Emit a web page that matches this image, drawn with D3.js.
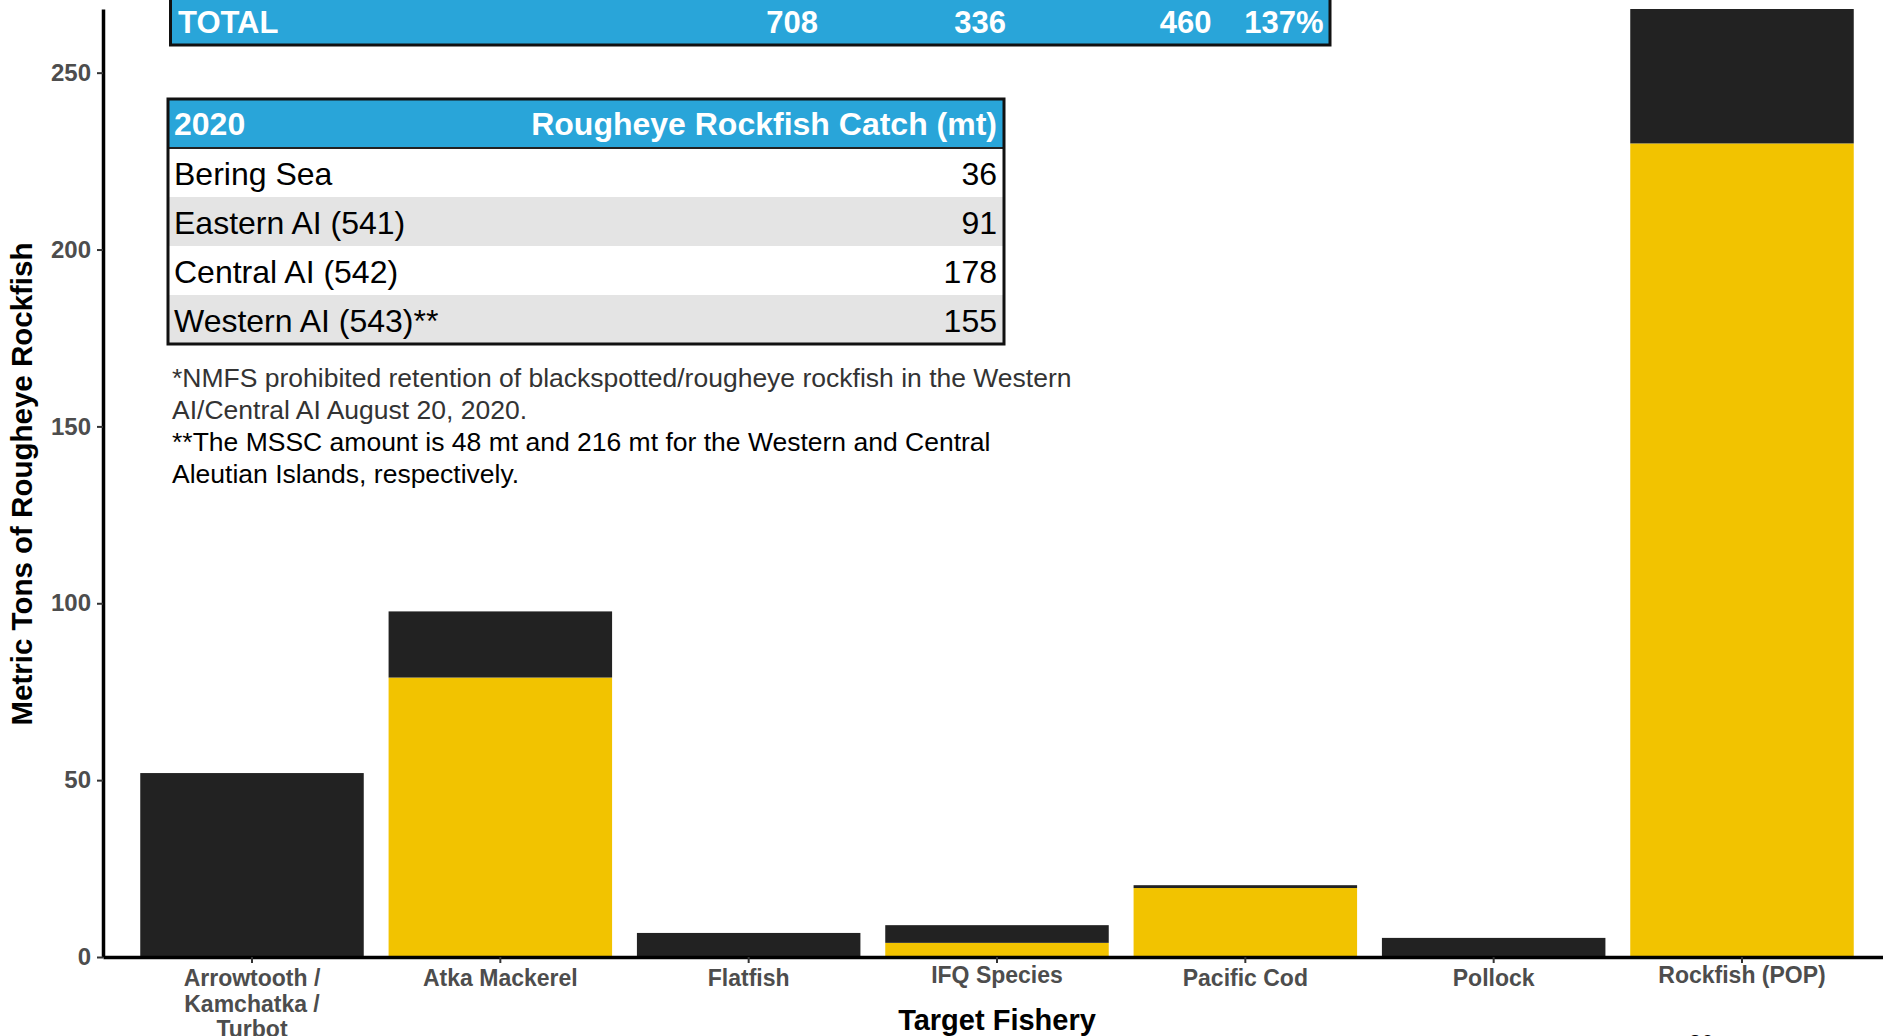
<!DOCTYPE html>
<html>
<head>
<meta charset="utf-8">
<script src="https://cdn.jsdelivr.net/npm/d3@7"></script>
<style>
body { margin: 0; background: #fff; }
svg { display: block; font-family: "Liberation Sans", Arial, sans-serif; }
</style>
</head>
<body>
<script>
// values
var categories = ["Arrowtooth /\nKamchatka /\nTurbot", "Atka Mackerel", "Flatfish", "IFQ Species", "Pacific Cod", "Pollock", "Rockfish (POP)"];
var lowerPart = [0, 79, 0, 4, 19.5, 0, 230];       // yellow segment
var upperPart = [52, 18.7, 6.8, 5, 0.8, 5.4, 38];  // dark segment
var yTicks = [0, 50, 100, 150, 200, 250];
var yMax = 268;

var totalRow = ["TOTAL", "708", "336", "460", "137%"];
var catchHeader = ["2020", "Rougheye Rockfish Catch (mt)"];
var areas = ["Bering Sea", "Eastern AI (541)", "Central AI (542)", "Western AI (543)**"];
var areaCatch = [36, 91, 178, 155];
var notes = [
    ["*NMFS prohibited retention of blackspotted/rougheye rockfish in the Western", "AI/Central AI August 20, 2020."],
    ["**The MSSC amount is 48 mt and 216 mt for the Western and Central", "Aleutian Islands, respectively."]
];

var width = 1883,
    height = 1036;

var panel = {left: 103, right: 1891, top: 9, bottom: 957};
var blue = "#29a5d9",
    yellow = "#f2c300",
    dark = "#222222";

var svg = d3.select("body")
    .append("svg")
    .attr("width", width)
    .attr("height", height);

var x = d3.scaleBand()
    .domain(categories)
    .range([panel.left, panel.right])
    .paddingInner(0.1)
    .paddingOuter(0.15);

var y = d3.scaleLinear()
    .domain([0, yMax])
    .range([panel.bottom, panel.top]);

var rows = categories.map(function(c, i) {
    return {cat: c, lower: lowerPart[i], upper: upperPart[i]};
});
var layers = d3.stack().keys(["lower", "upper"])(rows);
var fills = {lower: yellow, upper: dark};

svg.append("g").selectAll("g")
    .data(layers)
    .enter().append("g")
    .attr("fill", function(d) { return fills[d.key]; })
    .selectAll("rect")
    .data(function(d) { return d; })
    .enter().append("rect")
    .attr("x", function(d) { return x(d.data.cat); })
    .attr("width", x.bandwidth())
    .attr("y", function(d) { return y(d[1]); })
    .attr("height", function(d) { return y(d[0]) - y(d[1]); });

// y axis
var yAxis = svg.append("g")
    .attr("transform", "translate(" + panel.left + ",0)")
    .call(d3.axisLeft(y).tickValues(yTicks).tickSize(6).tickSizeOuter(0).tickPadding(6));
yAxis.attr("font-family", null).attr("font-size", null);
yAxis.select(".domain").attr("stroke", "#000").attr("stroke-width", 3.5);
yAxis.selectAll(".tick line").attr("stroke", "#333").attr("stroke-width", 2);
yAxis.selectAll(".tick text")
    .attr("fill", "#4d4d4d")
    .style("font-size", "24px")
    .style("font-weight", "bold");

// x axis
var xAxis = svg.append("g")
    .attr("transform", "translate(0," + panel.bottom + ")")
    .call(d3.axisBottom(x).tickSize(6).tickSizeOuter(0).tickPadding(7));
xAxis.attr("font-family", null).attr("font-size", null);
xAxis.select(".domain").attr("stroke", "#000").attr("stroke-width", 3.5);
xAxis.selectAll(".tick line").attr("stroke", "#333").attr("stroke-width", 2);
xAxis.selectAll(".tick text")
    .attr("fill", "#4d4d4d")
    .attr("dy", null)
    .style("font-size", "23px")
    .style("font-weight", "bold")
    .each(function(d) {
        var t = d3.select(this);
        var lines = d.split("\n");
        t.text(null);
        lines.forEach(function(l, i) {
            t.append("tspan").attr("x", 0).attr("dy", i ? "1.1em" : "0.71em").text(l);
        });
        // single line labels with descenders sit a little higher
        if (lines.length == 1 && /[gjpqy()]/.test(d)) t.attr("transform", "translate(0,-3)");
    });

// axis titles
svg.append("text")
    .attr("x", (panel.left + panel.right) / 2)
    .attr("y", 1030)
    .attr("text-anchor", "middle")
    .style("font-size", "29px")
    .style("font-weight", "bold")
    .text("Target Fishery");

svg.append("text")
    .attr("transform", "translate(32," + ((panel.top + panel.bottom) / 2 + 1) + ") rotate(-90)")
    .attr("text-anchor", "middle")
    .style("font-size", "29.5px")
    .style("font-weight", "bold")
    .text("Metric Tons of Rougheye Rockfish");

// TOTAL row (top of the slide table, cut off)
var totalG = svg.append("g");
totalG.append("rect")
    .attr("x", 170.5).attr("y", -4)
    .attr("width", 1159.5).attr("height", 49)
    .attr("fill", blue).attr("stroke", "#111").attr("stroke-width", 3);
var totalX = [178, 818, 1006, 1211.5, 1323.5];
totalG.selectAll("text")
    .data(totalRow)
    .enter().append("text")
    .attr("x", function(d, i) { return totalX[i]; })
    .attr("y", 33)
    .attr("text-anchor", function(d, i) { return i ? "end" : "start"; })
    .attr("fill", "#fff")
    .style("font-size", "31px")
    .style("font-weight", "bold")
    .text(function(d) { return d; });

// 2020 catch table
var tbl = {x0: 168, x1: 1004, top: 99, rowH: 49};
var tableG = svg.append("g");
tableG.append("rect")
    .attr("x", tbl.x0).attr("y", tbl.top)
    .attr("width", tbl.x1 - tbl.x0).attr("height", tbl.rowH)
    .attr("fill", blue);
tableG.selectAll("rect.row")
    .data(areas)
    .enter().append("rect")
    .attr("class", "row")
    .attr("x", tbl.x0)
    .attr("y", function(d, i) { return tbl.top + tbl.rowH * (i + 1); })
    .attr("width", tbl.x1 - tbl.x0)
    .attr("height", tbl.rowH)
    .attr("fill", function(d, i) { return i % 2 ? "#e4e4e4" : "#fff"; });
tableG.append("line")
    .attr("x1", tbl.x0).attr("x2", tbl.x1)
    .attr("y1", tbl.top + tbl.rowH).attr("y2", tbl.top + tbl.rowH)
    .attr("stroke", "#222").attr("stroke-width", 2);
tableG.append("rect")
    .attr("x", tbl.x0).attr("y", tbl.top)
    .attr("width", tbl.x1 - tbl.x0).attr("height", tbl.rowH * (areas.length + 1))
    .attr("fill", "none").attr("stroke", "#111").attr("stroke-width", 3);

tableG.append("text")
    .attr("x", tbl.x0 + 6).attr("y", tbl.top + 36)
    .attr("fill", "#fff")
    .style("font-size", "32px").style("font-weight", "bold")
    .text(catchHeader[0]);
tableG.append("text")
    .attr("x", tbl.x1 - 7).attr("y", tbl.top + 36)
    .attr("text-anchor", "end")
    .attr("fill", "#fff")
    .style("font-size", "32px").style("font-weight", "bold")
    .text(catchHeader[1]);

tableG.selectAll("text.area")
    .data(areas)
    .enter().append("text")
    .attr("class", "area")
    .attr("x", tbl.x0 + 6)
    .attr("y", function(d, i) { return tbl.top + tbl.rowH * (i + 1) + 37; })
    .style("font-size", "32px")
    .text(function(d) { return d; });
tableG.selectAll("text.val")
    .data(areaCatch)
    .enter().append("text")
    .attr("class", "val")
    .attr("x", tbl.x1 - 7)
    .attr("y", function(d, i) { return tbl.top + tbl.rowH * (i + 1) + 37; })
    .attr("text-anchor", "end")
    .style("font-size", "32px")
    .text(function(d) { return d; });

// footnotes
var noteColors = ["#333", "#000"];
var noteLines = [];
notes.forEach(function(n, k) {
    n.forEach(function(l) { noteLines.push({text: l, color: noteColors[k]}); });
});
svg.append("g").selectAll("text")
    .data(noteLines)
    .enter().append("text")
    .attr("x", 172)
    .attr("y", function(d, i) { return 387 + 32 * i; })
    .attr("fill", function(d) { return d.color; })
    .style("font-size", "26.5px")
    .text(function(d) { return d.text; });

// page number, mostly below the crop
svg.append("text")
    .attr("x", 1701).attr("y", 1050)
    .attr("text-anchor", "middle")
    .style("font-size", "22px")
    .text("26");
</script>
</body>
</html>
